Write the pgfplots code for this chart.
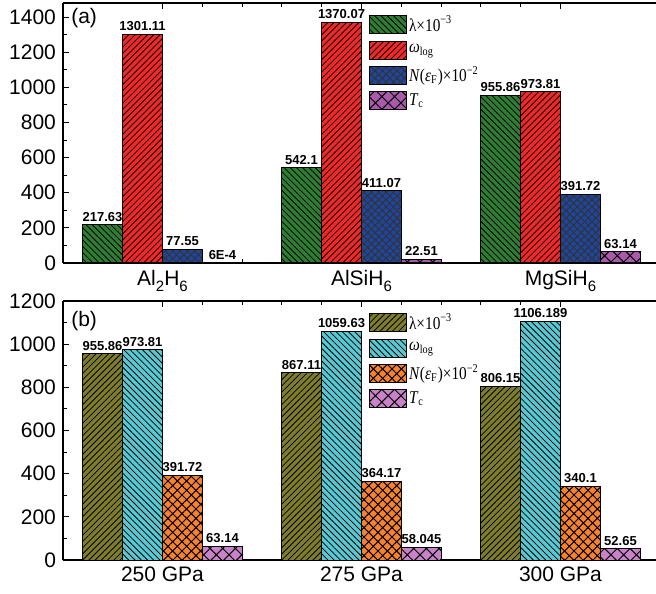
\documentclass[border=0pt]{standalone}
\usepackage{fontspec}
\setmainfont{Liberation Sans}
\newfontfamily\serif[FakeStretch=0.85]{Liberation Serif}
\usepackage{pgfplots}
\pgfplotsset{compat=1.18}
\usetikzlibrary{patterns.meta}
\newcommand\sub[1]{\raisebox{-0.6ex}{\fontsize{7.5}{8}\selectfont #1}}

\definecolor{cgreen}{RGB}{46,125,50}
\definecolor{cred}{RGB}{240,40,40}
\definecolor{cblue}{RGB}{30,70,160}
\definecolor{cpurp}{RGB}{170,90,170}
\definecolor{colive}{RGB}{125,125,45}
\definecolor{ccyan}{RGB}{90,200,210}
\definecolor{corange}{RGB}{245,130,45}
\definecolor{cpurp2}{RGB}{200,130,200}

\pgfplotsset{
 common/.style={
  scale only axis, width=296.5pt,
  xmin=-0.5, xmax=2.48,
  ybar=0pt, bar width=20pt,
  axis x line*=box, axis y line*=left,
  tick align=inside,
  major tick length=3pt, minor tick length=2pt,
  xtick={0,1,2},
  minor x tick num=4,
  minor y tick num=1,
  ymin=0,
  tick label style={font=\fontsize{10.5}{12}\selectfont},
  /pgf/number format/assume math mode=true,
  /pgf/number format/1000 sep={},
  axis line style={line width=0.6pt},
  every tick/.style={black, line width=0.5pt},
  nodes near coords,
  point meta=explicit symbolic,
  every node near coord/.append style={font=\bfseries\fontsize{6.5}{7}\selectfont, inner sep=1pt, yshift=0.5pt, black},
  legend image code/.code={\draw[##1] (0pt,-4.5pt) rectangle (18.5pt,4.5pt);},
  legend cell align=left,
  legend style={draw=none, fill=none, anchor=north west, at={(0.506,0.975)}, font=\serif\fontsize{9}{10}\selectfont, row sep=2.5pt, nodes={inner sep=0.8pt}},
  clip=false,
 },
 barstyle/.style={draw=black, line width=0.5pt, fill=#1},
}

\begin{document}
\begin{tikzpicture}
\path[use as bounding box] (-31.5pt,-165pt) rectangle (296.5pt,131.5pt);

\begin{axis}[common, height=130pt, ymax=1480, ytick={0,200,...,1400},
  xticklabels={Al\sub{2}H\sub{6}, AlSiH\sub{6}, MgSiH\sub{6}}]
\addplot[barstyle=cgreen, postaction={pattern={Lines[angle=-45,distance=2.2pt,line width=0.4pt]}, pattern color=black}] table[meta=l]{
x y l
0 217.63 217.63
1 542.1 542.1
2 955.86 955.86
};
\addlegendentry{λ×10\textsuperscript{−3}}
\addplot[barstyle=cred, postaction={pattern={Lines[angle=45,distance=2.2pt,line width=0.4pt]}, pattern color=black}] table[meta=l]{
x y l
0 1301.11 1301.11
1 1370.07 1370.07
2 973.81 973.81
};
\addlegendentry{\textit{ω}\textsubscript{log}}
\addplot[barstyle=cblue, postaction={pattern={Hatch[angle=45,distance=2.6pt,line width=0.5pt]}, pattern color=black!80}] table[meta=l]{
x y l
0 77.55 77.55
1 411.07 411.07
2 391.72 391.72
};
\addlegendentry{\textit{N}(\textit{ε}\textsubscript{F})×10\textsuperscript{−2}}
\addplot[barstyle=cpurp, postaction={pattern={Hatch[angle=45,distance=4.5pt,line width=0.5pt]}, pattern color=black}] table[meta=l]{
x y l
0 0.0006 6E-4
1 22.51 22.51
2 63.14 63.14
};
\addlegendentry{\textit{T}\textsubscript{c}}
\node[anchor=north west, inner sep=1pt, font=\fontsize{10.5}{12}\selectfont] at (rel axis cs:0.01,0.99) {(a)};
\end{axis}

\begin{axis}[common, at={(0pt,-19pt)}, anchor=north west, height=129.5pt, ymax=1200, ytick={0,200,...,1200},
  xticklabels={250 GPa, 275 GPa, 300 GPa}]
\addplot[barstyle=colive, postaction={pattern={Lines[angle=45,distance=2.2pt,line width=0.4pt]}, pattern color=black}] table[meta=l]{
x y l
0 955.86 955.86
1 867.11 867.11
2 806.15 806.15
};
\addlegendentry{λ×10\textsuperscript{−3}}
\addplot[barstyle=ccyan, postaction={pattern={Lines[angle=-45,distance=2.2pt,line width=0.4pt]}, pattern color=black}] table[meta=l]{
x y l
0 973.81 973.81
1 1059.63 1059.63
2 1106.189 1106.189
};
\addlegendentry{\textit{ω}\textsubscript{log}}
\addplot[barstyle=corange, postaction={pattern={Hatch[angle=45,distance=3.3pt,line width=0.5pt]}, pattern color=black}] table[meta=l]{
x y l
0 391.72 391.72
1 364.17 364.17
2 340.1 340.1
};
\addlegendentry{\textit{N}(\textit{ε}\textsubscript{F})×10\textsuperscript{−2}}
\addplot[barstyle=cpurp2, postaction={pattern={Hatch[angle=45,distance=4.5pt,line width=0.5pt]}, pattern color=black}] table[meta=l]{
x y l
0 63.14 63.14
1 58.045 58.045
2 52.65 52.65
};
\addlegendentry{\textit{T}\textsubscript{c}}
\node[anchor=north west, inner sep=1pt, font=\fontsize{10.5}{12}\selectfont] at (rel axis cs:0.01,0.97) {(b)};
\end{axis}
\end{tikzpicture}
\end{document}
